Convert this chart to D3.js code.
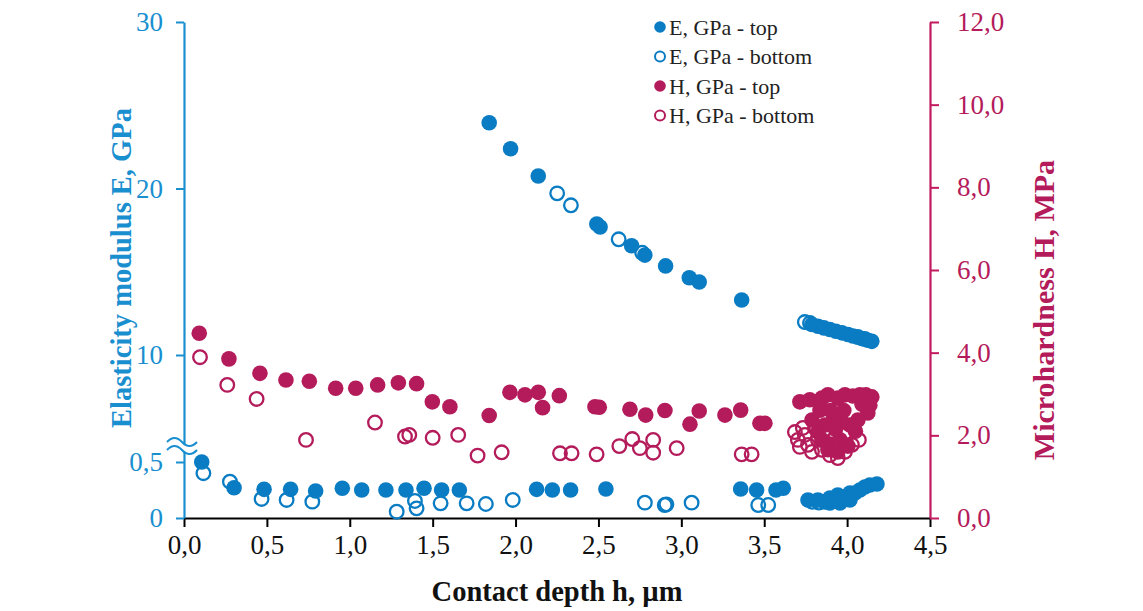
<!DOCTYPE html>
<html>
<head>
<meta charset="utf-8">
<script src="https://cdn.jsdelivr.net/npm/d3@7"></script>
<style>
html,body{margin:0;padding:0;background:#fff;}
svg{display:block;}
</style>
</head>
<body>
<svg id="chart" width="1143" height="611"></svg>
<script>
// ---- data ----
const xTicks = [0, 0.5, 1, 1.5, 2, 2.5, 3, 3.5, 4, 4.5];
const eTicks = [0, 0.5, 10, 20, 30];
const hTicks = [0, 2, 4, 6, 8, 10, 12];
const legendLabels = ["E, GPa - top", "E, GPa - bottom", "H, GPa - top", "H, GPa - bottom"];

// [contact depth h (µm), E (GPa)]
const eTop = [
  [0.107,0.50],[0.302,0.27],[0.483,0.256],[0.643,0.256],[0.794,0.241],[0.955,0.265],[1.072,0.25],
  [1.218,0.25],[1.339,0.25],[1.448,0.265],[1.554,0.25],[1.661,0.25],[2.127,0.256],[2.222,0.25],
  [2.332,0.25],[2.545,0.259],[3.358,0.259],[3.454,0.25],[3.571,0.25],[3.615,0.265],
  [3.764,0.161],[3.824,0.161],[3.866,0.143],[3.896,0.179],[3.896,0.134],[3.926,0.161],[3.944,0.205],
  [3.957,0.134],[3.987,0.188],[4.017,0.223],[4.017,0.161],[4.047,0.223],[4.077,0.25],[4.107,0.277],
  [4.137,0.295],[4.18,0.304],
  [1.841,23.95],[1.970,22.39],[2.137,20.75],[2.49,17.87],[2.51,17.69],[2.70,16.56],[2.78,16.0],
  [2.905,15.35],[3.048,14.64],[3.108,14.38],[3.364,13.30],
  [3.788,11.83],[3.824,11.73],[3.860,11.63],[3.896,11.53],[3.932,11.43],[3.969,11.33],[4.005,11.23],
  [4.035,11.14],[4.089,10.99],[4.125,10.89],[4.149,10.82]
];
const eBottom = [
  [0.117,0.40],[0.277,0.324],[0.468,0.17],[0.619,0.161],[0.774,0.146],[1.283,0.056],[1.393,0.152],
  [1.403,0.086],[1.548,0.131],[1.705,0.131],[1.821,0.125],[1.983,0.161],[2.78,0.137],[2.90,0.116],
  [2.91,0.122],[3.062,0.137],[3.464,0.116],[3.524,0.116],[3.79,0.145],[3.83,0.138],
  [2.251,19.71],[2.334,18.99],[2.622,16.95],[2.764,16.14],[3.745,11.98],[3.776,11.92],
  [4.065,11.08],[4.107,10.96]
];
// [contact depth h (µm), H (MPa)]
const hTop = [
  [0.092,4.47],[0.271,3.85],[0.458,3.50],[0.615,3.34],[0.756,3.31],[0.915,3.14],[1.036,3.14],
  [1.168,3.22],[1.293,3.27],[1.403,3.25],[1.498,2.81],[1.604,2.69],[1.841,2.48],[1.966,3.04],
  [2.057,2.98],[2.137,3.04],[2.163,2.67],[2.264,2.96],[2.479,2.69],[2.505,2.68],[2.69,2.63],
  [2.785,2.49],[2.901,2.60],[3.052,2.27],[3.108,2.59],[3.263,2.49],[3.358,2.61],[3.474,2.29],
  [3.504,2.29],
  [3.715,2.81],[3.775,2.86],[3.848,2.90],[3.884,2.98],[3.944,2.90],[3.987,2.98],[4.035,2.95],
  [4.077,2.98],[4.113,2.98],[4.149,2.93],[4.137,2.73],[4.125,2.54],[4.065,2.37],[4.017,2.25],
  [3.969,2.32],[3.920,2.42],[3.866,2.25],[3.824,2.08],[3.848,1.89],[3.896,1.79],[3.957,1.89],
  [4.005,1.74],[3.944,1.60],[3.884,1.65],[3.788,2.37],[3.836,2.61],[3.90,2.60],[4.09,2.75],
  [3.98,2.60],[3.93,2.15],[4.05,2.10]
];
const hBottom = [
  [0.0965,3.89],[0.261,3.22],[0.438,2.88],[0.736,1.89],[1.152,2.31],[1.333,1.97],[1.359,2.01],
  [1.50,1.94],[1.654,2.01],[1.771,1.51],[1.916,1.59],[2.268,1.565],[2.338,1.565],[2.489,1.54],
  [2.626,1.74],[2.704,1.91],[2.75,1.69],[2.83,1.89],[2.83,1.58],[2.972,1.69],[3.364,1.54],[3.424,1.54],
  [3.685,2.08],[3.703,1.89],[3.715,1.72],[3.745,2.01],[3.764,1.77],[3.788,1.60],[3.824,1.89],
  [3.848,1.65],[3.896,1.52],[3.944,1.45],[3.987,1.60],[4.029,1.77],[4.071,1.89],[3.993,2.08],
  [3.926,1.94],[3.866,2.13],[3.806,2.18],[3.733,2.18]
];

// ---- drawing ----
const BLUE = "#0a7cc3", BLUE_AX = "#1a8fd0", MAG = "#b41b5b", MAG_AX = "#c21a5e";
const FONT = "'Liberation Serif','Times New Roman',serif";
const svg = d3.select("#chart");
const L = 184, R = 930, T = 22, B = 518;

const x = d3.scaleLinear().domain([0, 4.5]).range([L, R]);
const yE = d3.scaleLinear().domain([0, 0.5, 10, 30]).range([B, 462, 355, T]);
const yH = d3.scaleLinear().domain([0, 12]).range([B, T]);
const comma = (d, n) => d.toFixed(n).replace(".", ",");

// x axis
const gx = svg.append("g").attr("transform", `translate(0,${B})`)
  .call(d3.axisBottom(x).tickValues(xTicks).tickFormat(d => comma(d, 1)).tickSize(9).tickSizeOuter(0).tickPadding(8));
gx.select(".domain").attr("stroke", "#000").attr("stroke-width", 2);
gx.selectAll(".tick line").attr("stroke", "#000").attr("stroke-width", 2);
gx.selectAll("text").attr("font-family", FONT).attr("font-size", 27).attr("fill", "#111");

// left axis
const gl = svg.append("g").attr("transform", `translate(${L},0)`)
  .call(d3.axisLeft(yE).tickValues(eTicks).tickFormat(d => d === 0.5 ? "0,5" : String(d)).tickSize(8).tickSizeOuter(0).tickPadding(13));
gl.select(".domain").attr("stroke", BLUE_AX).attr("stroke-width", 2.2);
gl.selectAll(".tick line").attr("stroke", BLUE_AX).attr("stroke-width", 2);
gl.selectAll("text").attr("font-family", FONT).attr("font-size", 27).attr("fill", BLUE_AX);

// right axis
const gr = svg.append("g").attr("transform", `translate(${R},0)`)
  .call(d3.axisRight(yH).tickValues(hTicks).tickFormat(d => comma(d, 1)).tickSize(9).tickSizeOuter(0).tickPadding(18));
gr.select(".domain").attr("stroke", MAG_AX).attr("stroke-width", 2.2);
gr.selectAll(".tick line").attr("stroke", MAG_AX).attr("stroke-width", 2);
gr.selectAll("text").attr("font-family", FONT).attr("font-size", 27).attr("fill", MAG);

// axis break symbol
const yb = yE(0.5) - 20;
const brk = svg.append("g");
brk.append("path")
  .attr("d", `M167,${yb} q7.5,-8 15,0 t15,0 l0,8 q-7.5,8 -15,0 t-15,0 z`)
  .attr("fill", "#fff").attr("stroke", "none");
[0, 8].forEach(o => brk.append("path")
  .attr("d", `M167,${yb + o} q7.5,-8 15,0 t15,0`)
  .attr("fill", "none").attr("stroke", BLUE_AX).attr("stroke-width", 2));

// points
const R_DOT = 7.8;
function dots(data, yScale, color, filled) {
  svg.append("g").selectAll("circle").data(data).join("circle")
    .attr("cx", d => x(d[0])).attr("cy", d => yScale(d[1]))
    .attr("r", filled ? R_DOT : 6.8)
    .attr("fill", filled ? color : "none")
    .attr("stroke", filled ? "none" : color)
    .attr("stroke-width", filled ? 0 : 2.3);
}
dots(eTop, yE, BLUE, true);
dots(eBottom, yE, BLUE, false);
dots(hTop, yH, MAG, true);
dots(hBottom, yH, MAG, false);

// axis titles
svg.append("text").attr("transform", `translate(131,${268}) rotate(-90)`)
  .attr("text-anchor", "middle").attr("font-family", FONT).attr("font-weight", "bold")
  .attr("font-size", 28.5).attr("fill", BLUE_AX).text("Elasticity modulus E, GPa");
svg.append("text").attr("transform", `translate(1054,${310}) rotate(-90)`)
  .attr("text-anchor", "middle").attr("font-family", FONT).attr("font-weight", "bold")
  .attr("font-size", 30).attr("fill", MAG).text("Microhardness H, MPa");
svg.append("text").attr("x", 557).attr("y", 601)
  .attr("text-anchor", "middle").attr("font-family", FONT).attr("font-weight", "bold")
  .attr("font-size", 28.5).attr("fill", "#111").text("Contact depth h, µm");

// legend
const legColors = [BLUE, BLUE, MAG, MAG];
const legFilled = [true, false, true, false];
const lg = svg.append("g");
legendLabels.forEach((t, i) => {
  const cy = 27 + i * 29.5;
  lg.append("circle").attr("cx", 660).attr("cy", cy).attr("r", legFilled[i] ? 5.8 : 5)
    .attr("fill", legFilled[i] ? legColors[i] : "none")
    .attr("stroke", legFilled[i] ? "none" : legColors[i]).attr("stroke-width", 2);
  lg.append("text").attr("x", 669).attr("y", cy).attr("dy", "0.35em")
    .attr("font-family", FONT).attr("font-size", 22).attr("fill", "#222").text(t);
});
</script>
</body>
</html>
